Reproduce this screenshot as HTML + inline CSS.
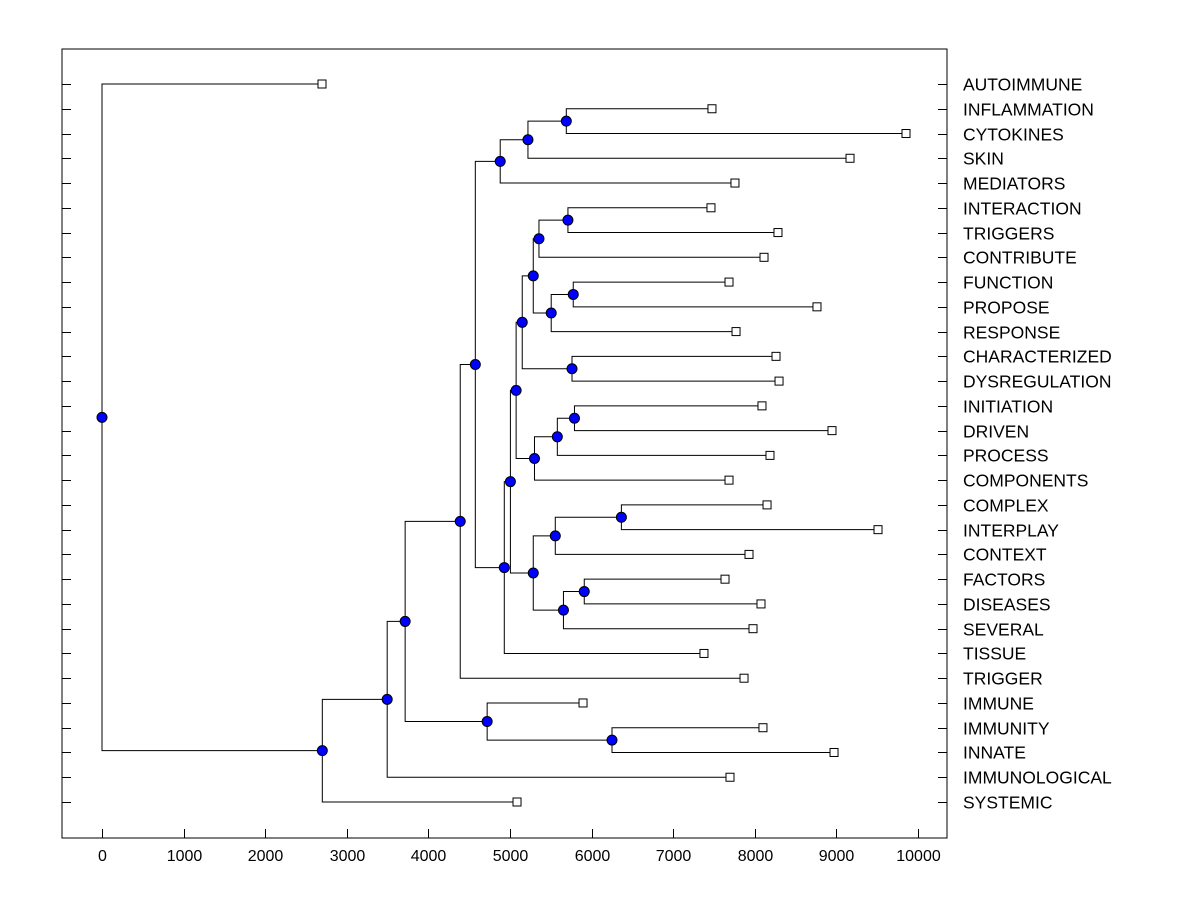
<!DOCTYPE html>
<html><head><meta charset="utf-8"><style>
body{margin:0;background:#fff}
svg{display:block}
text{font-family:"Liberation Sans",Arial,sans-serif;font-size:16px;fill:#000}
text.leaf{font-size:17.5px}
</style></head><body>
<svg id="chart" width="1200" height="900" xmlns="http://www.w3.org/2000/svg"></svg>
<script>
const leafNames=["AUTOIMMUNE","INFLAMMATION","CYTOKINES","SKIN","MEDIATORS","INTERACTION","TRIGGERS","CONTRIBUTE","FUNCTION","PROPOSE","RESPONSE","CHARACTERIZED","DYSREGULATION","INITIATION","DRIVEN","PROCESS","COMPONENTS","COMPLEX","INTERPLAY","CONTEXT","FACTORS","DISEASES","SEVERAL","TISSUE","TRIGGER","IMMUNE","IMMUNITY","INNATE","IMMUNOLOGICAL","SYSTEMIC"];
const leafValues=[2696,7475,9853,9167,7757,7463,8284,8113,7684,8762,7770,8260,8297,8088,8946,8186,7684,8150,9510,7929,7635,8076,7978,7377,7868,5895,8100,8971,7696,5086];
const mergeChildren=[
["L1","L2"],["N0","L3"],["N1","L4"],
["L5","L6"],["N3","L7"],["L8","L9"],["N5","L10"],["N4","N6"],
["L11","L12"],["N7","N8"],
["L13","L14"],["N10","L15"],["N11","L16"],["N9","N12"],
["L17","L18"],["N14","L19"],["L20","L21"],["N16","L22"],["N15","N17"],
["N13","N18"],["N19","L23"],["N2","N20"],["N21","L24"],
["L26","L27"],["L25","N23"],["N22","N24"],["N25","L28"],["N26","L29"],["L0","N27"]
];
const mergeHeights=[5690,5220,4880,5710,5355,5775,5505,5285,5760,5150,5790,5580,5300,5075,6365,5555,5910,5655,5285,5005,4930,4575,4390,6250,4720,3715,3495,2700,0];
const xTicks=[0,1000,2000,3000,4000,5000,6000,7000,8000,9000,10000];

const svg=document.getElementById('chart');
const NS="http://www.w3.org/2000/svg";
const L=62,R=947,T=49,B=838;
const xs=v=>102+v*0.0816;
const ys=i=>84+i*(802-84)/(leafNames.length-1);
function mk(tag,attrs,name){const e=document.createElementNS(NS,tag);for(const k in attrs)e.setAttribute(k,attrs[k]);


svg.appendChild(e);return e;}
mk('rect',{x:L,y:T,width:R-L,height:B-T,fill:'none',stroke:'#000','stroke-width':1},'plot-frame');
xTicks.forEach(v=>{const x=Math.round(xs(v))+0.5;
mk('line',{x1:x,x2:x,y1:B,y2:B-9,stroke:'#000'},'x-tick');
const t=mk('text',{x:x,y:861,'text-anchor':'middle'},'x-tick-label');t.textContent=v;});
leafNames.forEach((n,i)=>{const y=Math.round(ys(i))+0.5;
mk('line',{x1:L,x2:L+9,y1:y,y2:y,stroke:'#000'},'y-tick-left');
mk('line',{x1:R-9,x2:R,y1:y,y2:y,stroke:'#000'},'y-tick-right');
const t=mk('text',{x:963,y:y+6,'class':'leaf'},'leaf-label');t.textContent=n;});
const pos={};
leafNames.forEach((n,i)=>pos['L'+i]={x:xs(leafValues[i]),y:ys(i),leaf:true});
const circles=[];
mergeChildren.forEach((c,k)=>{const a=pos[c[0]],b=pos[c[1]];const x=xs(mergeHeights[k]);const y=(a.y+b.y)/2;
pos['N'+k]={x,y};
const p=`M${a.x},${a.y}H${x}V${b.y}H${b.x}`;
mk('path',{d:p,fill:'none',stroke:'#000','stroke-width':1},'branch');
circles.push([x,y]);});
leafNames.forEach((n,i)=>{const p=pos['L'+i];
mk('rect',{x:p.x-4,y:p.y-4,width:8,height:8,fill:'#fff',stroke:'#000'},'leaf-marker');});
circles.forEach(([x,y])=>mk('circle',{cx:x,cy:y,r:5,fill:'#0000ff',stroke:'#000'},'merge-node'));
</script>
</body></html>
